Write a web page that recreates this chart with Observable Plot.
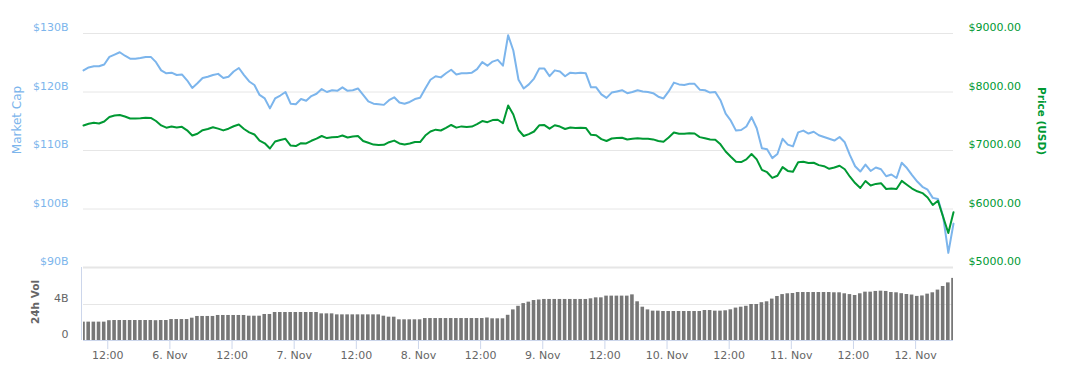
<!DOCTYPE html>
<html>
<head>
<meta charset="utf-8">
<script src="https://cdn.jsdelivr.net/npm/d3@7"></script>
<script src="https://cdn.jsdelivr.net/npm/@observablehq/plot@0.6"></script>
<style>
  html, body { margin: 0; padding: 0; background: #fff; }
  #chart { position: relative; width: 1066px; height: 386px; font-family: "DejaVu Sans", sans-serif; }
  #chart svg { position: absolute; left: 0; top: 0; }
  .ttl { position: absolute; white-space: nowrap; transform-origin: center; line-height: 1; }
</style>
</head>
<body>
<div id="chart"></div>
<script>
// ---- data (hourly samples, 5 Nov 2017 07:19 UTC -> 12 Nov 2017 07:19 UTC) ----
const startUTC = "2017-11-05T07:19:00Z";
const stepHours = 1;

// Market cap, billions of USD
const marketCapB = [
  123.7, 124.2, 124.4, 124.4, 124.7, 126.0, 126.4, 126.8, 126.2, 125.7,
  125.7, 125.8, 126.0, 126.0, 125.1, 123.7, 123.2, 123.3, 122.9, 123.0,
  122.0, 120.7, 121.5, 122.4, 122.6, 122.9, 123.1, 122.4, 122.6, 123.5,
  124.1, 122.9, 121.8, 121.2, 119.5, 118.9, 117.2, 118.9, 119.4, 120.0,
  118.0, 117.9, 118.8, 118.5, 119.3, 119.7, 120.5, 120.0, 120.3, 120.2,
  120.8, 120.2, 120.3, 120.6, 119.5, 118.4, 118.0, 117.9, 117.8, 118.6,
  119.1, 118.2, 118.0, 118.3, 118.8, 119.0, 120.6, 122.1, 122.7, 122.5,
  123.2, 123.8, 123.0, 123.2, 123.2, 123.3, 123.9, 125.1, 124.5, 125.2,
  125.5, 124.5, 129.7, 127.1, 122.1, 120.6, 121.3, 122.3, 124.0, 124.0,
  122.7, 123.7, 123.5, 122.7, 123.3, 123.2, 123.3, 123.2, 120.8, 120.8,
  119.6, 119.0, 119.9, 120.1, 120.3, 119.8, 120.0, 120.3, 120.1, 120.0,
  119.8, 119.2, 118.9, 120.1, 121.6, 121.3, 121.2, 121.4, 121.4, 120.4,
  120.3, 119.9, 120.0, 118.6, 116.3, 115.1, 113.4, 113.5, 114.1, 115.7,
  113.8, 110.4, 110.2, 108.7, 109.4, 112.0, 111.0, 110.7, 113.1, 113.4,
  112.9, 113.2, 112.6, 112.3, 112.0, 111.7, 112.3, 111.4, 109.2, 107.3,
  106.4, 107.6, 106.5, 107.1, 106.8, 105.6, 105.9, 105.3, 107.9, 107.0,
  105.8, 104.7, 103.8, 103.3, 101.9, 101.7, 98.7, 92.5, 97.5
];

// Price, USD
const priceUSD = [
  7427, 7456, 7473, 7462, 7496, 7573, 7598, 7607, 7581, 7547,
  7547, 7552, 7559, 7557, 7504, 7429, 7390, 7410, 7393, 7405,
  7345, 7256, 7287, 7347, 7368, 7398, 7374, 7344, 7373, 7415,
  7444, 7368, 7311, 7274, 7168, 7123, 7034, 7154, 7178, 7200,
  7085, 7075, 7125, 7120, 7166, 7202, 7248, 7212, 7226, 7229,
  7256, 7222, 7241, 7248, 7162, 7132, 7101, 7096, 7097, 7142,
  7169, 7120, 7103, 7121, 7145, 7145, 7256, 7325, 7356, 7342,
  7386, 7436, 7391, 7412, 7402, 7409, 7451, 7503, 7484, 7520,
  7526, 7465, 7769, 7615, 7350, 7248, 7280, 7325, 7431, 7434,
  7373, 7431, 7409, 7368, 7393, 7385, 7388, 7385, 7268, 7260,
  7195, 7162, 7205, 7212, 7219, 7188, 7200, 7210, 7200, 7202,
  7190, 7162, 7150, 7222, 7308, 7285, 7285, 7296, 7291, 7229,
  7210, 7188, 7185, 7106, 6983, 6894, 6809, 6803, 6848, 6940,
  6848, 6668, 6629, 6532, 6569, 6716, 6651, 6638, 6800, 6809,
  6786, 6791, 6750, 6732, 6687, 6709, 6740, 6679, 6552, 6444,
  6359, 6479, 6402, 6429, 6441, 6342, 6350, 6342, 6480, 6414,
  6350, 6303, 6272, 6197, 6068, 6142, 5863, 5590, 5945
];

// 24h volume, billions of USD
const volumeB = [
  2.04, 2.04, 2.04, 2.04, 2.04, 2.20, 2.22, 2.22, 2.22, 2.22,
  2.22, 2.22, 2.22, 2.22, 2.20, 2.22, 2.22, 2.33, 2.33, 2.33,
  2.33, 2.48, 2.67, 2.67, 2.67, 2.67, 2.78, 2.78, 2.78, 2.78,
  2.78, 2.78, 2.70, 2.70, 2.70, 2.89, 2.89, 3.11, 3.11, 3.11,
  3.11, 3.11, 3.11, 3.11, 3.11, 3.11, 2.96, 2.96, 2.96, 2.85,
  2.85, 2.85, 2.85, 2.85, 2.85, 2.85, 2.85, 2.85, 2.70, 2.59,
  2.59, 2.30, 2.30, 2.30, 2.30, 2.30, 2.44, 2.44, 2.44, 2.44,
  2.44, 2.44, 2.44, 2.44, 2.44, 2.44, 2.44, 2.44, 2.50, 2.41,
  2.41, 2.41, 2.80, 3.40, 3.80, 4.10, 4.26, 4.44, 4.50, 4.56,
  4.56, 4.56, 4.56, 4.56, 4.56, 4.56, 4.56, 4.56, 4.63, 4.74,
  4.74, 4.93, 4.93, 4.93, 4.93, 4.93, 5.07, 4.30, 3.70, 3.40,
  3.26, 3.26, 3.22, 3.22, 3.22, 3.22, 3.22, 3.22, 3.22, 3.22,
  3.33, 3.33, 3.26, 3.26, 3.30, 3.41, 3.60, 3.70, 3.80, 4.00,
  4.00, 4.20, 4.30, 4.60, 4.89, 5.10, 5.19, 5.22, 5.33, 5.33,
  5.33, 5.33, 5.33, 5.33, 5.33, 5.30, 5.30, 5.19, 5.10, 5.00,
  5.19, 5.37, 5.37, 5.45, 5.48, 5.45, 5.33, 5.30, 5.20, 5.11,
  5.05, 4.90, 4.95, 5.15, 5.30, 5.60, 6.00, 6.40, 6.90
];

// axis ticks
const marketCapTicks = [90, 100, 110, 120, 130];
const priceTicks = [5000, 6000, 7000, 8000, 9000];
const volumeTicks = [0, 4];
const volumeMax = 8.11;

// ---- build ----
const W = 1066, H = 386;
const plotLeft = 83, plotRight = 953;
const mainTop = 33, mainBottom = 267;
const volTop = 267, volBottom = 340;

const t0 = new Date(startUTC).getTime();
const rows = marketCapB.map((mc, i) => ({
  t: new Date(t0 + i * stepHours * 3600e3),
  mc, p: priceUSD[i], v: volumeB[i]
}));
const xDomain = [rows[0].t, rows[rows.length - 1].t];
const xTicks = d3.utcHour.every(12).range(xDomain[0], new Date(+xDomain[1] + 1));
const fmtDay = d3.utcFormat("%-d. %b"), fmtHour = d3.utcFormat("%H:%M");
const xFmt = d => (d.getUTCHours() === 0 ? fmtDay(d) : fmtHour(d));

const style = { background: "transparent", fontFamily: "'DejaVu Sans', sans-serif", fontSize: "11px", overflow: "visible" };
const base = { width: W, height: H, marginLeft: plotLeft, marginRight: W - plotRight, style };

const BLUE = "#7cb5ec", GREEN = "#009933", GRID = "#e6e6e6", AXIS = "#ccd6eb", LABEL = "#666666";

const mcPlot = Plot.plot({
  ...base,
  marginTop: mainTop, marginBottom: H - mainBottom,
  x: { type: "utc", domain: xDomain, axis: null },
  y: { domain: [marketCapTicks[0], marketCapTicks[marketCapTicks.length - 1]] },
  marks: [
    Plot.gridY(marketCapTicks.slice(1), { stroke: GRID, strokeOpacity: 1 }),
    Plot.gridY(marketCapTicks.slice(0, 1), { stroke: GRID, strokeOpacity: 1, strokeWidth: 2 }),
    Plot.axisY(marketCapTicks, { tickSize: 0, tickPadding: 15, dy: -6, color: BLUE, label: null, tickFormat: d => `$${d}B` }),
    Plot.lineY(rows, { x: "t", y: "mc", stroke: BLUE, strokeWidth: 2 })
  ]
});

const pricePlot = Plot.plot({
  ...base,
  marginTop: mainTop, marginBottom: H - mainBottom,
  x: { type: "utc", domain: xDomain, axis: null },
  y: { domain: [priceTicks[0], priceTicks[priceTicks.length - 1]] },
  marks: [
    Plot.axisY(priceTicks, { anchor: "right", tickSize: 0, tickPadding: 15, dy: -6, color: GREEN, label: null, tickFormat: d => "$" + d.toFixed(2) }),
    Plot.lineY(rows, { x: "t", y: "p", stroke: GREEN, strokeWidth: 2 })
  ]
});

const volPlot = Plot.plot({
  ...base,
  marginTop: volTop, marginBottom: H - volBottom,
  x: { type: "utc", domain: xDomain },
  y: { domain: [0, volumeMax] },
  marks: [
    Plot.gridY(volumeTicks.slice(1), { stroke: GRID, strokeOpacity: 1 }),
    Plot.rectY(rows, {
      x1: d => new Date(+d.t - 1800e3), x2: d => new Date(+d.t + 1800e3),
      y: "v", fill: "#777777", insetLeft: 0.8, insetRight: 0.8, clip: true
    }),
    Plot.ruleY([0], { stroke: AXIS }),
    Plot.ruleX(xDomain.slice(0, 1), { stroke: AXIS, dx: -2 }),
    Plot.axisY(volumeTicks, { tickSize: 0, tickPadding: 15, dy: -6, color: LABEL, label: null, tickFormat: d => (d === 0 ? "0" : d + "B") }),
    Plot.axisX(xTicks, { tickSize: 9, tickPadding: 2, stroke: AXIS, fill: LABEL, label: null, tickFormat: xFmt })
  ]
});

const chart = document.getElementById("chart");
chart.append(volPlot, mcPlot, pricePlot);

function addTitle(text, cx, cy, rot, css) {
  const d = document.createElement("div");
  d.className = "ttl";
  d.textContent = text;
  Object.assign(d.style, css, { left: cx + "px", top: cy + "px", transform: `translate(-50%, -50%) rotate(${rot}deg)` });
  chart.append(d);
}
addTitle("Market Cap", 17, 120, -90, { color: BLUE, fontSize: "12px" });
addTitle("Price (USD)", 1042, 121, 90, { color: GREEN, fontSize: "10.5px", fontWeight: "bold" });
addTitle("24h Vol", 35, 302, -90, { color: LABEL, fontSize: "10.5px", fontWeight: "bold" });
</script>
</body>
</html>
